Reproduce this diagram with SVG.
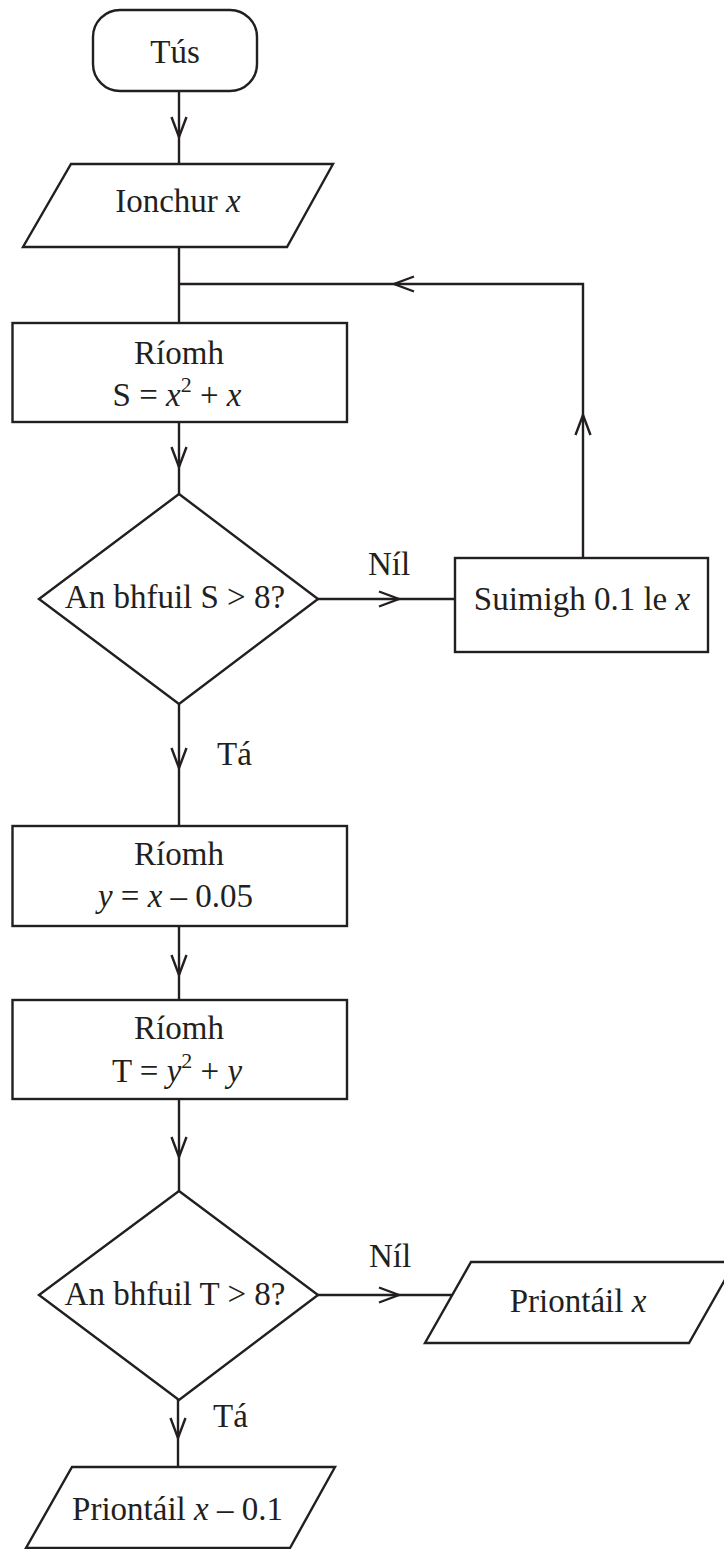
<svg xmlns="http://www.w3.org/2000/svg" width="724" height="1549" viewBox="0 0 724 1549">
<defs>
<style>
.s{fill:#fff;stroke:#231f20;stroke-width:2.4;stroke-linejoin:miter}
.c{fill:none;stroke:#231f20;stroke-width:2.4}
text{font-family:"Liberation Serif","Times New Roman",serif;font-size:33px;fill:#231f20}
.m{text-anchor:middle}
.i{font-style:italic}
.sup{font-size:22px}
</style>
<marker id="v" viewBox="-23 -10 25 20" markerWidth="25" markerHeight="20" refX="0" refY="0" orient="auto" markerUnits="userSpaceOnUse">
<path d="M-20,-7.5 L0,0 L-20,7.5" fill="none" stroke="#231f20" stroke-width="2.4"/>
</marker>
</defs>
<rect width="724" height="1549" fill="#fff"/>
<g id="connectors">
<path class="c" d="M179,91 L179,137" marker-end="url(#v)"/>
<path class="c" d="M179,137 L179,164"/>
<path class="c" d="M179,247 L179,323"/>
<path class="c" d="M179,422 L179,467" marker-end="url(#v)"/>
<path class="c" d="M179,467 L179,494"/>
<path class="c" d="M318,599 L399,599" marker-end="url(#v)"/>
<path class="c" d="M399,599 L455,599"/>
<path class="c" d="M583,558 L583,415" marker-end="url(#v)"/>
<path class="c" d="M583,415 L583,284 L394,284" marker-end="url(#v)"/>
<path class="c" d="M394,284 L179,284"/>
<path class="c" d="M179,704 L179,768" marker-end="url(#v)"/>
<path class="c" d="M179,768 L179,826"/>
<path class="c" d="M179,926 L179,975" marker-end="url(#v)"/>
<path class="c" d="M179,975 L179,1000"/>
<path class="c" d="M179,1099 L179,1157" marker-end="url(#v)"/>
<path class="c" d="M179,1157 L179,1191"/>
<path class="c" d="M318,1295 L399,1295" marker-end="url(#v)"/>
<path class="c" d="M399,1295 L452,1295"/>
<path class="c" d="M178,1399 L178,1438" marker-end="url(#v)"/>
<path class="c" d="M178,1438 L178,1467"/>
<text x="368" y="575">Níl</text>
<text x="217" y="765">Tá</text>
<text x="369" y="1267">Níl</text>
<text x="213" y="1427">Tá</text>
</g>
<g id="start">
<rect class="s" x="93" y="10" width="164" height="81" rx="27" ry="27"/>
<text class="m" x="175" y="63">Tús</text>
</g>
<g id="input">
<path class="s" d="M71,164 L333,164 L287,247 L23,247 Z"/>
<text class="m" x="178" y="212">Ionchur <tspan class="i">x</tspan></text>
</g>
<g id="calcS">
<rect class="s" x="12.5" y="323" width="334.5" height="99"/>
<text class="m" x="179" y="364">Ríomh</text>
<text class="m" x="177" y="406">S = <tspan class="i">x</tspan><tspan class="sup" dy="-14">2</tspan><tspan dy="14"> + </tspan><tspan class="i">x</tspan></text>
</g>
<g id="decisionS">
<path class="s" d="M179,494 L318,599 L179,704 L39,599 Z"/>
<text class="m" x="175" y="608">An bhfuil S &gt; 8?</text>
</g>
<g id="add">
<rect class="s" x="455" y="558" width="253" height="94"/>
<text class="m" x="582" y="610">Suimigh 0.1 le <tspan class="i">x</tspan></text>
</g>
<g id="calcY">
<rect class="s" x="12.5" y="826" width="334.5" height="100"/>
<text class="m" x="179" y="865">Ríomh</text>
<text class="m" x="175.5" y="907"><tspan class="i">y</tspan> = <tspan class="i">x</tspan> – 0.05</text>
</g>
<g id="calcT">
<rect class="s" x="12.5" y="1000" width="334.5" height="99"/>
<text class="m" x="179" y="1039">Ríomh</text>
<text class="m" x="177" y="1082">T = <tspan class="i">y</tspan><tspan class="sup" dy="-14">2</tspan><tspan dy="14"> + </tspan><tspan class="i">y</tspan></text>
</g>
<g id="decisionT">
<path class="s" d="M179,1191 L318,1295 L179,1400 L39,1295 Z"/>
<text class="m" x="175" y="1305">An bhfuil T &gt; 8?</text>
</g>
<g id="printX">
<path class="s" d="M471,1262 L735,1262 L689,1343 L425,1343 Z"/>
<text class="m" x="578" y="1312">Priontáil <tspan class="i">x</tspan></text>
</g>
<g id="printX01">
<path class="s" d="M72,1467 L335,1467 L290,1548 L26,1548 Z"/>
<text class="m" x="177.5" y="1520">Priontáil <tspan class="i">x</tspan> – 0.1</text>
</g>
</svg>
